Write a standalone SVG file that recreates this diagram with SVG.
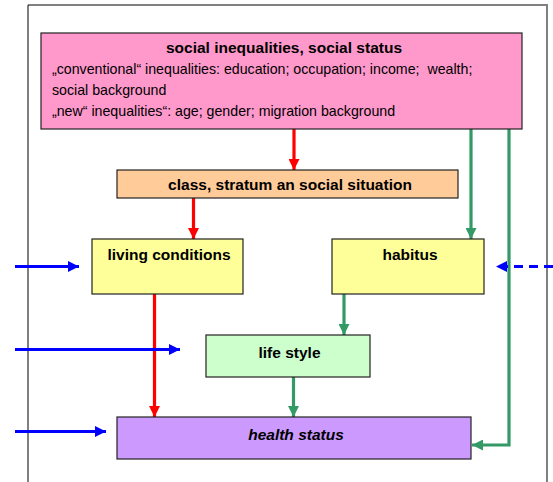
<svg xmlns="http://www.w3.org/2000/svg" width="553" height="482" viewBox="0 0 553 482">
<style>
.box{stroke:#222;stroke-width:1.2}
.b{font-family:"Liberation Sans",Arial,sans-serif;font-weight:bold;font-size:15.5px;fill:#000;text-anchor:middle}
.r{font-family:"Liberation Sans",Arial,sans-serif;font-size:14.2px;fill:#000;white-space:pre}
.red{stroke:#FF0000;stroke-width:3.2;fill:none}
.grn{stroke:#339966;stroke-width:3.2;fill:none}
.blu{stroke:#0000FF;stroke-width:3.2;fill:none}
</style>
<defs>
<marker id="ar" viewBox="0 0 10 10" refX="10" refY="5" markerWidth="11" markerHeight="11" markerUnits="userSpaceOnUse" orient="auto"><path d="M0,0 L10,5 L0,10 Z" fill="#FF0000"/></marker>
<marker id="ag" viewBox="0 0 10 10" refX="10" refY="5" markerWidth="11" markerHeight="11" markerUnits="userSpaceOnUse" orient="auto"><path d="M0,0 L10,5 L0,10 Z" fill="#339966"/></marker>
<marker id="ab" viewBox="0 0 10 10" refX="10" refY="5" markerWidth="11" markerHeight="11" markerUnits="userSpaceOnUse" orient="auto"><path d="M0,0 L10,5 L0,10 Z" fill="#0000FF"/></marker>
</defs>
<rect width="553" height="482" fill="#fff"/>
<g id="frame">
<line x1="28" y1="5" x2="548" y2="5" stroke="#808080" stroke-width="2"/>
<line x1="547" y1="5" x2="547" y2="482" stroke="#808080" stroke-width="2"/>
<line x1="28" y1="5" x2="28" y2="482" stroke="#000" stroke-width="1"/>
</g>
<g id="connectors">
<line class="red" x1="294" y1="129" x2="294" y2="170" marker-end="url(#ar)"/>
<line class="red" x1="193.5" y1="198" x2="193.5" y2="239" marker-end="url(#ar)"/>
<line class="red" x1="154.5" y1="294" x2="154.5" y2="417" marker-end="url(#ar)"/>
<line class="grn" x1="471" y1="129" x2="471" y2="239" marker-end="url(#ag)"/>
<polyline class="grn" points="509,129 509,445 472,445" marker-end="url(#ag)"/>
<line class="grn" x1="344" y1="294" x2="344" y2="335" marker-end="url(#ag)"/>
<line class="grn" x1="293.5" y1="377" x2="293.5" y2="417" marker-end="url(#ag)"/>
<line class="blu" x1="15" y1="266.5" x2="79" y2="266.5" marker-end="url(#ab)"/>
<line class="blu" x1="15" y1="349.5" x2="180" y2="349.5" marker-end="url(#ab)"/>
<line class="blu" x1="15" y1="431.5" x2="106" y2="431.5" marker-end="url(#ab)"/>
<line class="blu" x1="553" y1="266.5" x2="496" y2="266.5" stroke-dasharray="9,6" marker-end="url(#ab)"/>
</g>
<g id="social-inequalities">
<rect class="box" x="41" y="33" width="481" height="96" fill="#FF99CC"/>
<text class="b" x="284" y="53">social inequalities, social status</text>
<text class="r" x="52" y="74" xml:space="preserve">„conventional“ inequalities: education; occupation; income;  wealth;</text>
<text class="r" x="52" y="95">social background</text>
<text class="r" x="52" y="116">„new“ inequalities“: age; gender; migration background</text>
</g>
<g id="class-stratum">
<rect class="box" x="117" y="170" width="341" height="28" fill="#FFCC99"/>
<text class="b" x="290" y="190">class, stratum an social situation</text>
</g>
<g id="living-conditions">
<rect class="box" x="92" y="239" width="151" height="55" fill="#FFFF99"/>
<text class="b" x="169" y="260">living conditions</text>
</g>
<g id="habitus">
<rect class="box" x="332" y="239" width="152" height="55" fill="#FFFF99"/>
<text class="b" x="410" y="260">habitus</text>
</g>
<g id="life-style">
<rect class="box" x="206" y="335" width="164" height="42" fill="#CCFFCC"/>
<text class="b" x="289.5" y="358">life style</text>
</g>
<g id="health-status">
<rect class="box" x="117" y="417" width="354" height="42" fill="#CC99FF"/>
<text class="b" x="296" y="440" font-style="italic">health status</text>
</g>
</svg>
